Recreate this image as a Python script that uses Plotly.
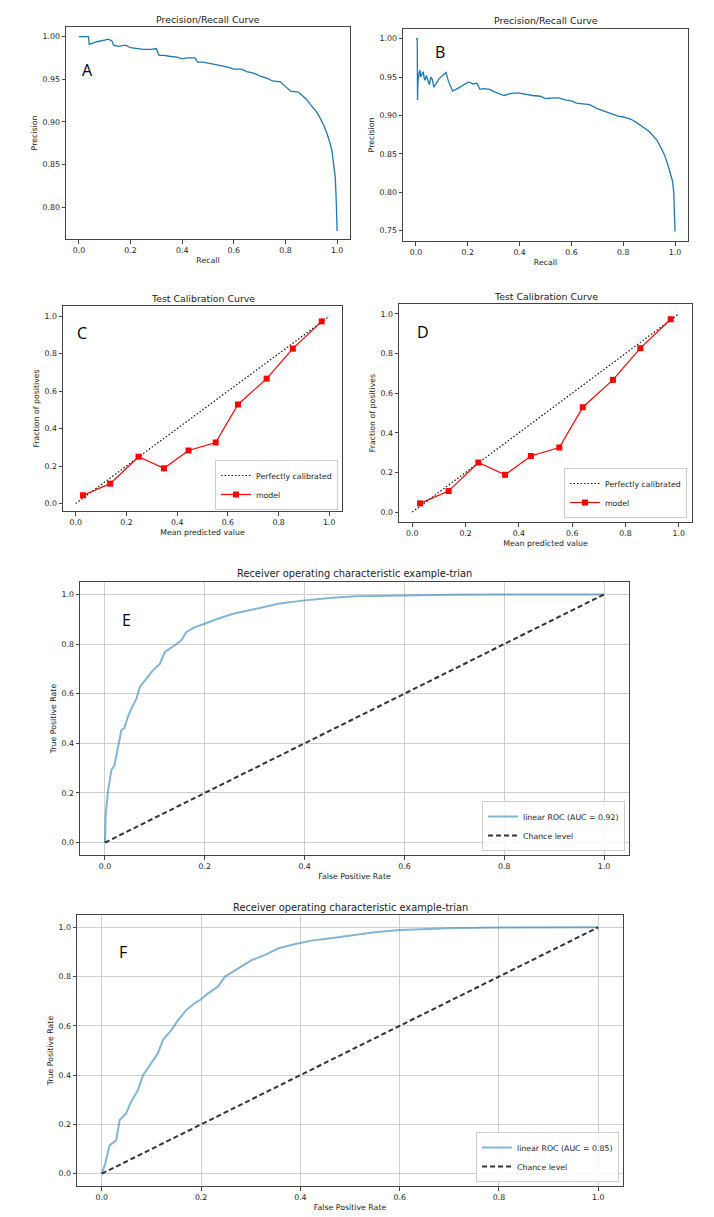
import plotly.graph_objects as go

PAGE_W, PAGE_H = 714, 1217
OFF = 8                      # browser body margin
W, H = PAGE_W - OFF, PAGE_H - OFF
FONT = "DejaVu Sans"
TXT = "#222222"

# ---------------- data ----------------
recall_a = [0.0, 0.037, 0.04, 0.07, 0.1, 0.114, 0.128, 0.134, 0.153, 0.17, 0.18, 0.2, 0.22, 0.25, 0.28, 0.3,
            0.31, 0.33, 0.35, 0.38, 0.4, 0.42, 0.45, 0.46, 0.48, 0.5, 0.53, 0.55, 0.58, 0.6, 0.63, 0.65,
            0.68, 0.7, 0.73, 0.75, 0.78, 0.8, 0.82, 0.85, 0.87, 0.88, 0.9, 0.92, 0.93, 0.94, 0.95, 0.96,
            0.97, 0.98, 0.988, 0.993, 0.997, 1.0]
precision_a = [1.0, 1.0, 0.991, 0.994, 0.996, 0.997, 0.995, 0.990, 0.9886, 0.990, 0.990, 0.987, 0.986, 0.985,
               0.985, 0.986, 0.978, 0.978, 0.977, 0.976, 0.974, 0.975, 0.975, 0.970, 0.970, 0.969, 0.967,
               0.966, 0.964, 0.962, 0.962, 0.959, 0.957, 0.954, 0.951, 0.948, 0.947, 0.941, 0.936, 0.935,
               0.930, 0.927, 0.919, 0.912, 0.907, 0.901, 0.895, 0.887, 0.878, 0.866, 0.850, 0.835, 0.805,
               0.772]

recall_b = [0.0, 0.005, 0.006, 0.008, 0.012, 0.0154, 0.018, 0.022, 0.028, 0.032, 0.035, 0.04, 0.047, 0.052,
            0.057, 0.063, 0.069, 0.075, 0.08, 0.09, 0.1, 0.116, 0.125, 0.135, 0.141, 0.155, 0.17, 0.185,
            0.2, 0.208, 0.22, 0.235, 0.247, 0.26, 0.285, 0.3, 0.32, 0.34, 0.36, 0.38, 0.4, 0.43, 0.45,
            0.48, 0.5, 0.53, 0.55, 0.58, 0.6, 0.62, 0.65, 0.67, 0.7, 0.73, 0.75, 0.78, 0.8, 0.83, 0.85,
            0.87, 0.88, 0.9, 0.92, 0.93, 0.95, 0.96, 0.97, 0.98, 0.985, 0.99, 0.995, 0.998, 1.0]
precision_b = [1.0, 1.0, 0.92, 0.945, 0.955, 0.959, 0.95, 0.953, 0.957, 0.948, 0.946, 0.952, 0.944, 0.94,
               0.95, 0.947, 0.937, 0.94, 0.944, 0.948, 0.951, 0.956, 0.945, 0.935, 0.932, 0.934, 0.937,
               0.94, 0.943, 0.943, 0.941, 0.942, 0.934, 0.935, 0.934, 0.931, 0.929, 0.926, 0.928, 0.929,
               0.929, 0.927, 0.926, 0.925, 0.922, 0.923, 0.923, 0.92, 0.919, 0.916, 0.915, 0.914, 0.909,
               0.905, 0.902, 0.899, 0.898, 0.895, 0.891, 0.887, 0.884, 0.879, 0.872, 0.868, 0.855, 0.848,
               0.838, 0.827, 0.82, 0.815, 0.80, 0.78, 0.749]

calib_pred = [0.029, 0.136, 0.248, 0.348, 0.445, 0.552, 0.640, 0.753, 0.856, 0.970]
calib_frac = [0.044, 0.106, 0.250, 0.188, 0.283, 0.326, 0.529, 0.667, 0.827, 0.973]
perfect = [0.0, 1.0]

fpr_e = [0.0, 0.0, 0.0014, 0.006, 0.0128, 0.019, 0.026, 0.033, 0.039, 0.046, 0.053, 0.063, 0.07, 0.086,
         0.096, 0.11, 0.12, 0.14, 0.153, 0.163, 0.18, 0.2, 0.226, 0.257, 0.297, 0.35, 0.4, 0.456, 0.503,
         0.6, 0.7, 0.8, 1.0]
tpr_e = [0.0, 0.05, 0.111, 0.205, 0.292, 0.312, 0.38, 0.453, 0.462, 0.507, 0.54, 0.58, 0.627, 0.667,
         0.694, 0.72, 0.768, 0.795, 0.815, 0.848, 0.868, 0.882, 0.902, 0.922, 0.94, 0.963, 0.976, 0.987,
         0.993, 0.997, 0.999, 1.0, 1.0]

fpr_f = [0.0, 0.007, 0.0156, 0.029, 0.036, 0.049, 0.059, 0.073, 0.083, 0.1, 0.113, 0.123, 0.14, 0.154,
         0.17, 0.187, 0.2, 0.214, 0.234, 0.248, 0.275, 0.302, 0.329, 0.356, 0.39, 0.423, 0.457, 0.497,
         0.55, 0.6, 0.7, 0.8, 1.0]
tpr_f = [0.0, 0.042, 0.115, 0.136, 0.218, 0.245, 0.292, 0.34, 0.4, 0.448, 0.489, 0.543, 0.583, 0.624,
         0.664, 0.692, 0.708, 0.732, 0.759, 0.8, 0.834, 0.867, 0.888, 0.915, 0.932, 0.946, 0.955, 0.966,
         0.98, 0.989, 0.996, 0.999, 1.0]
chance = [0.0, 1.0]

auc_e = 0.92
auc_f = 0.85

pr_title = "Precision/Recall Curve"
cal_title = "Test Calibration Curve"
roc_title = "Receiver operating characteristic example-trian"
panel_letters = ["A", "B", "C", "D", "E", "F"]

# ---------------- layout helpers (page pixel -> paper fraction) ----------------
def fx(px):
    return (px - OFF) / W

def fy(py):
    return 1 - (py - OFF) / H

def xdom(p0, p1):
    return [fx(p0), fx(p1)]

def ydom(top, bottom):
    return [fy(bottom), fy(top)]

tickfont = dict(family=FONT, size=7.8, color=TXT)
titlefont = dict(family=FONT, size=7.8, color=TXT)

def axis(dom, rng, tickvals, fmt, title, grid=False, anchor=None, standoff=3):
    return dict(domain=dom, range=rng, tickvals=tickvals, tickformat=fmt,
                showline=True, mirror=True, linecolor="#444444", linewidth=1,
                ticks="outside", ticklen=3.5, tickwidth=1, tickcolor="#444444",
                tickfont=tickfont, showgrid=grid, gridcolor="#cfcfcf", gridwidth=1,
                zeroline=False, anchor=anchor,
                title=dict(text=title, font=titlefont, standoff=standoff))

ticks01 = [0.0, 0.2, 0.4, 0.6, 0.8, 1.0]

# panel boxes in page pixels: left, right, top, bottom
boxes = {
    "A": (66, 350, 27, 239),
    "B": (403, 688, 29, 241),
    "C": (63, 342, 306, 511),
    "D": (399, 692, 304, 522),
    "E": (80, 629, 582, 855),
    "F": (77, 623, 915, 1186),
}

fig = go.Figure()

# A
fig.add_trace(go.Scatter(x=recall_a, y=precision_a, mode="lines", line=dict(color="#1f77b4", width=1.3),
                         xaxis="x", yaxis="y", showlegend=False))
# B
fig.add_trace(go.Scatter(x=recall_b, y=precision_b, mode="lines", line=dict(color="#1f77b4", width=1.3),
                         xaxis="x2", yaxis="y2", showlegend=False))
# C, D
for xa, ya, lg in [("x3", "y3", "legend"), ("x4", "y4", "legend2")]:
    fig.add_trace(go.Scatter(x=perfect, y=perfect, mode="lines", name="Perfectly calibrated",
                             line=dict(color="#111111", width=1.2, dash="1.5px,2px"),
                             xaxis=xa, yaxis=ya, legend=lg))
    fig.add_trace(go.Scatter(x=calib_pred, y=calib_frac, mode="lines+markers", name="model",
                             line=dict(color="#ff0000", width=1.2),
                             marker=dict(symbol="square", size=6, color="#ff0000"),
                             xaxis=xa, yaxis=ya, legend=lg))
# E, F
for xa, ya, lg, fxv, tyv, auc in [("x5", "y5", "legend3", fpr_e, tpr_e, auc_e),
                                  ("x6", "y6", "legend4", fpr_f, tpr_f, auc_f)]:
    fig.add_trace(go.Scatter(x=fxv, y=tyv, mode="lines", name=f"linear ROC (AUC = {auc:.2f})",
                             line=dict(color="rgba(31,119,180,0.55)", width=2),
                             xaxis=xa, yaxis=ya, legend=lg))
    fig.add_trace(go.Scatter(x=chance, y=chance, mode="lines", name="Chance level",
                             line=dict(color="rgba(0,0,0,0.8)", width=2, dash="5px,3px"),
                             xaxis=xa, yaxis=ya, legend=lg))

bA, bB, bC, bD, bE, bF = [boxes[k] for k in "ABCDEF"]

layout = dict(
    width=W, height=H, autosize=False,
    margin=dict(l=0, r=0, t=0, b=0),
    paper_bgcolor="white", plot_bgcolor="white",
    font=dict(family=FONT, color=TXT),
    xaxis=axis(xdom(bA[0], bA[1]), [-0.05, 1.05], ticks01, ".1f", "Recall", anchor="y"),
    yaxis=axis(ydom(bA[2], bA[3]), [0.7627, 1.0113], [0.80, 0.85, 0.90, 0.95, 1.00], ".2f", "Precision", anchor="x"),
    xaxis2=axis(xdom(bB[0], bB[1]), [-0.05, 1.05], ticks01, ".1f", "Recall", anchor="y2"),
    yaxis2=axis(ydom(bB[2], bB[3]), [0.7365, 1.0126], [0.75, 0.80, 0.85, 0.90, 0.95, 1.00], ".2f", "Precision", anchor="x2"),
    xaxis3=axis(xdom(bC[0], bC[1]), [-0.05, 1.05], ticks01, ".1f", "Mean predicted value", anchor="y3"),
    yaxis3=axis(ydom(bC[2], bC[3]), [-0.04, 1.055], ticks01, ".1f", "Fraction of positives", anchor="x3"),
    xaxis4=axis(xdom(bD[0], bD[1]), [-0.05, 1.05], ticks01, ".1f", "Mean predicted value", anchor="y4"),
    yaxis4=axis(ydom(bD[2], bD[3]), [-0.05, 1.05], ticks01, ".1f", "Fraction of positives", anchor="x4"),
    xaxis5=axis(xdom(bE[0], bE[1]), [-0.05, 1.05], ticks01, ".1f", "False Positive Rate", grid=True, anchor="y5"),
    yaxis5=axis(ydom(bE[2], bE[3]), [-0.05, 1.05], ticks01, ".1f", "True Positive Rate", grid=True, anchor="x5"),
    xaxis6=axis(xdom(bF[0], bF[1]), [-0.05, 1.05], ticks01, ".1f", "False Positive Rate", grid=True, anchor="y6"),
    yaxis6=axis(ydom(bF[2], bF[3]), [-0.05, 1.05], ticks01, ".1f", "True Positive Rate", grid=True, anchor="x6"),
)

def legend_at(right, bottom):
    return dict(x=fx(right), y=fy(bottom), xanchor="right", yanchor="bottom",
                bgcolor="rgba(255,255,255,0.85)", bordercolor="#cccccc", borderwidth=1,
                font=dict(family=FONT, size=7.8, color=TXT), tracegroupgap=0, itemwidth=30)

layout["legend"] = legend_at(338, 510)
layout["legend2"] = legend_at(687, 518)
layout["legend3"] = legend_at(625, 851)
layout["legend4"] = legend_at(619, 1182)

annotations = []
def title_at(text, cx, cy, size=9.4):
    annotations.append(dict(text=text, x=fx(cx), y=fy(cy), xref="paper", yref="paper",
                            showarrow=False, xanchor="center", yanchor="middle",
                            font=dict(family=FONT, size=size, color=TXT)))

title_at(pr_title, (bA[0] + bA[1]) / 2, 20)
title_at(pr_title, (bB[0] + bB[1]) / 2, 21)
title_at(cal_title, (bC[0] + bC[1]) / 2, 299)
title_at(cal_title, (bD[0] + bD[1]) / 2, 296)
title_at(roc_title, (bE[0] + bE[1]) / 2, 573, size=9.85)
title_at(roc_title, (bF[0] + bF[1]) / 2, 907, size=9.85)

letter_pos = [(87, 70), (440, 52), (82, 333), (423, 332), (126, 620), (123, 952)]
for letter, (lx, ly) in zip(panel_letters, letter_pos):
    annotations.append(dict(text=letter, x=fx(lx), y=fy(ly), xref="paper", yref="paper",
                            showarrow=False, xanchor="center", yanchor="middle",
                            font=dict(family="Open Sans", size=16, color="#000000")))

layout["annotations"] = annotations
fig.update_layout(**layout)

fig.write_html("out.html")
